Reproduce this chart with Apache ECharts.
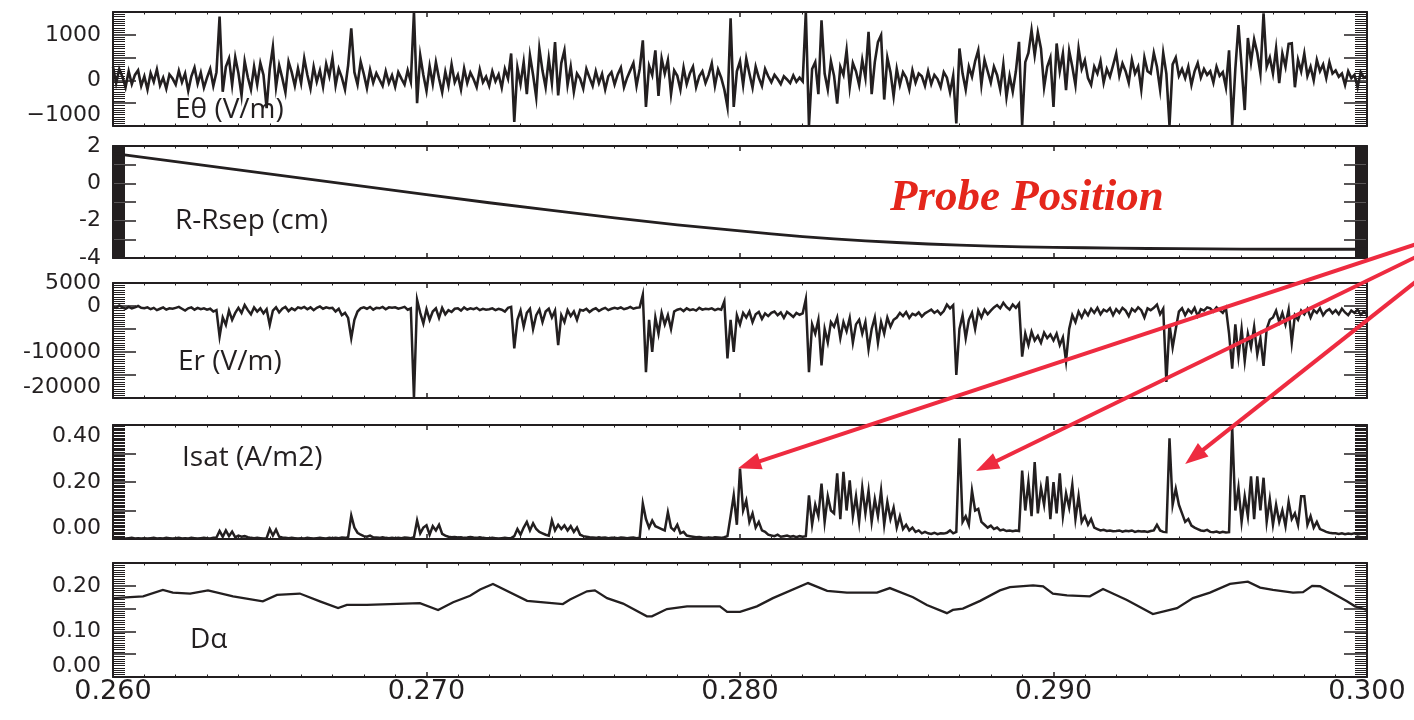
<!DOCTYPE html>
<html>
<head>
<meta charset="utf-8">
<script src="https://cdn.jsdelivr.net/npm/echarts@6/dist/echarts.min.js"></script>
<style>
  html, body { margin: 0; padding: 0; background: #ffffff; }
  #chart { width: 1414px; height: 720px; }
</style>
</head>
<body>
<div id="chart"></div>
<script>
// Probe time traces, sampled every 0.1 ms from t = 0.260 s
const T0 = 0.260;
const DT = 0.0001;

// E-theta (V/m), one row per millisecond
const eTheta = [
  300, -60, 250, 80, -150, 200, -80, 120, 220, -120,
  90, -200, 160, -30, 240, -110, 60, -180, 130, 40,
  -90, 210, -40, 150, -230, 90, 280, -70, 170, -160,
  60, 250, -120, 180, 1400, -250, 300, 480, -100, 510,
  160, -330, 420, 70, -200, 300, -90, 380, 120, -610,
  250, 736, -150, 330, 50, -260, 410, 180, -120, 260,
  -60, 485, 120, -180, 300, -30, 220, -140, 360, 90,
  490, -110, 250, 60, -200, 330, 1140, 180, -90, 410,
  140, -170, 230, -50, 160, 20, -120, 200, -60, 110,
  -140, 180, 40, -90, 220, -30, 1500, -500, 550, 120,
  -230, 310, -80, 400, 40, -260, 190, -120, 350, -40,
  120, -200, 260, -60, 170, 30, -150, 240, -40, 80,
  -120, 200, -20, 130, -160, 250, 40, 590, -910, 280,
  -80, 400, -300, 550, 120, -370, 700, 210, -150, 480,
  -60, 840, -330, 380, 660, -100, 300, -250, 150, 40,
  -180, 250, 60, -120, 200, -60, 140, -200, 90, 180,
  -90, 130, 280, -150, 60, 220, 380, -120, 250, 880,
  -580, 320, 120, 660, -340, 480, 150, 440, -300, 220,
  100, -200, 280, -80, 150, 300, -150, 90, 200, -60,
  120, 370, -120, 240, 60, -200, -580, 1360, -580, 200,
  420, -100, 480, 150, -160, 300, 60, -120, 250, 90,
  -40, 120, 30, -80, 90, 20, -60, 110, -30, 60,
  -20, 1500, -990, 250, 400, -300, 1320, 150, -200, 420,
  100, -510, 300, 120, 660, -150, 380, 200, -100, 450,
  60, 1065, -300, 400, 840, 990, -420, 500, 180, -350,
  250, -100, 180, 60, -200, 220, -50, 150, 90, -120,
  200, -80, 120, 30, -150, 180, 60, -260, 100, -945,
  700, 150, -200, 300, 80, 420, 660, -100, 450, 200,
  -50, 300, 120, -200, 350, -370, 100, -250, 200, 845,
  -985, 400, 600, 1100, 550, 1050, 700, -150, 300, 500,
  -580, 810, 200, 590, -215, 650, 300, -100, 700, 250,
  440, 50, -100, 300, 150, 420, -50, 250, 80, 330,
  590, 100, 370, 200, -50, 450, 150, 300, -200, 500,
  200, 150, 600, 300, -200, 600, 150, -985, 350, 500,
  100, 250, 50, 300, -100, 200, 380, 60, 250, 120,
  200, -50, 300, 100, 180, -150, 660, -985, 250, 1215,
  300, -650, 930, 400, 900, 600, 150, 1470, 300, 500,
  150, 700, -60, 590, 300, 800, 815, -150, 450, 200,
  590, 100, 300, 0, 450, 200, 350, 50, 400, 150,
  220, 80, 150, -100, 200, 50, 120, -150, 180, 60,
  100
];

// Radial electric field Er (V/m)
const eRadial = [
  -200, -400, 100, -300, -600, -200, -500, -300, 0, -400,
  -500, -300, -700, -400, -900, -600, -300, -800, -500, -600,
  -400, -200, -600, -1000, -500, -300, -800, -400, -700, -500,
  -800, -600, -1200, -900, -6660, -2500, -4100, -1000, -3000, -1500,
  -400, -1500, 200, -900, -1800, -300, -1200, -500, -1600, -700,
  -4100, -1000, -300, -1400, -600, -200, -1100, -500, -900, -300,
  -500, -200, -700, -300, -900, -400, -100, -600, -300, -500,
  -400, -1200, -600, -2000, -1500, -2600, -7000, -3000, -1200, -500,
  -300, -600, -200, -800, -400, -500, -200, -700, -300, -400,
  -300, -600, -400, -200, -800, -500, -20000, 1350, -1500, -3800,
  -700, -3000, -1200, -500, -2600, -400, -1800, -900, -1300, -600,
  -500, -1000, -300, -800, -500, -700, -400, -900, -600, -800,
  -700, -500, -900, -600, -800, -1200, -400, -200, -9200, -3000,
  -1000, -4500, -1500, -600, -5000, -2000, -800, -3500, -1200, -600,
  -2500, -1000, -8500, -2000, -3500, -900, -2200, -1200, -3000, -800,
  -1000, -600, -1300, -800, -500, -1100, -700, -400, -900, -600,
  -400, -600, -300, -700, -500, -200, -600, -400, -300, 2450,
  -14400, -3000, -10000, -2500, -6000, -1500, -4000, -2000, -5000, -1200,
  -800, -600, -1100, -500, -900, -700, -1000, -400, -800, -600,
  -700, -500, -900, -600, -800, 1000, -11400, -3000, -10000, -2000,
  -4000, -1500, -2500, -1200, -3500, -1800, -1300, -2800, -1600, -2200,
  -1500, -1200, -2000, -1400, -2600, -1300, -1800, -2400, -1500, -1900,
  -1600, 1500, -14400, -4000, -6000, -3000, -12900, -5000, -7900, -3500,
  -4500, -2500, -7000, -3500, -5500, -2600, -8000, -4000, -3000, -6000,
  -3500, -9400, -5000, -2500, -8000, -3500, -6000, -2500, -4500, -3000,
  -2500, -1500, -2200, -1300, -2600, -1700, -2000, -1400, -2300, -1600,
  -1200, -800, -1500, -1000, -1800, -1100, 300, -500, 200, -15000,
  -5000, -2000, -7000, -3000, -1500, -5000, -1000, -2500, -800, -1800,
  -1000, -300, 200, -500, 700, -200, -800, 300, -400, 500,
  -11000, -6000, -8500, -5600, -7500, -6500, -8000, -5800, -7000, -6200,
  -7500, -6000, -8500, -6800, -12000, -5000, -2000, -3500, -1200, -2500,
  -1000, -2000, -600, -1500, -400, -1800, -800, -1200, -500, -2000,
  -700, -1500, -400, -1000, -2200, -600, -1200, -300, -900, -2500,
  -500, -900, -400, 300, -1800, -600, -16500, -4000, -9000, -5000,
  -1200, -500, -2000, -800, -1500, -400, -2200, -700, -1000, -300,
  -500, -1200, -300, -900, -1500, -400, -6000, -13600, -4000, -11000,
  -5000, -12000, -6000, -9000, -4500, -10500, -7000, -13000, -5000, -3000,
  -2500, -1000, -3500, -1500, -4000, -800, -8000, -2000, -3000, -1000,
  -1800, -600, -2500, -900, -1500, -500, -2000, -1100, -700, -1600,
  -900, -1800, -600, -1400, -2000, -1000, -1500, -800, -1900, -1200,
  -1800
];

// Ion saturation current density (A/m2)
const iSat = [
  0.003, 0.002, 0.004, 0.003, 0.002, 0.003, 0.004, 0.002, 0.003, 0.002,
  0.003, 0.002, 0.003, 0.004, 0.002, 0.003, 0.002, 0.004, 0.003, 0.002,
  0.003, 0.004, 0.002, 0.003, 0.002, 0.004, 0.003, 0.002, 0.003, 0.004,
  0.003, 0.002, 0.004, 0.005, 0.028, 0.008, 0.030, 0.010, 0.026, 0.006,
  0.012, 0.008, 0.010, 0.006, 0.004, 0.003, 0.004, 0.003, 0.002, 0.003,
  0.035, 0.012, 0.033, 0.008, 0.005, 0.004, 0.003, 0.004, 0.003, 0.002,
  0.003, 0.002, 0.004, 0.003, 0.002, 0.003, 0.004, 0.003, 0.002, 0.004,
  0.003, 0.004, 0.003, 0.005, 0.004, 0.006, 0.082, 0.040, 0.022, 0.015,
  0.010, 0.008, 0.012, 0.006, 0.005, 0.004, 0.006, 0.004, 0.003, 0.004,
  0.003, 0.004, 0.003, 0.005, 0.004, 0.003, 0.006, 0.065, 0.020, 0.040,
  0.048, 0.015, 0.045, 0.030, 0.050, 0.018, 0.012, 0.008, 0.006, 0.007,
  0.005, 0.006, 0.004, 0.005, 0.007, 0.005, 0.004, 0.006, 0.004, 0.003,
  0.003, 0.004, 0.003, 0.002, 0.003, 0.004, 0.003, 0.003, 0.010, 0.035,
  0.015, 0.040, 0.060, 0.030, 0.055, 0.035, 0.025, 0.020, 0.015, 0.012,
  0.065, 0.030, 0.050, 0.035, 0.048, 0.030, 0.045, 0.025, 0.040, 0.015,
  0.010, 0.008, 0.006, 0.005, 0.004, 0.006, 0.004, 0.005, 0.003, 0.004,
  0.004, 0.003, 0.005, 0.004, 0.003, 0.004, 0.005, 0.003, 0.004, 0.124,
  0.070, 0.040, 0.065, 0.045, 0.040, 0.035, 0.030, 0.094, 0.040, 0.030,
  0.050, 0.020, 0.025, 0.012, 0.010, 0.008, 0.006, 0.007, 0.005, 0.004,
  0.005, 0.004, 0.006, 0.005, 0.004, 0.006, 0.010, 0.080, 0.153, 0.050,
  0.247, 0.100, 0.135, 0.060, 0.090, 0.040, 0.060, 0.030, 0.025, 0.015,
  0.012, 0.010, 0.015, 0.008, 0.010, 0.012, 0.008, 0.010, 0.006, 0.010,
  0.008, 0.010, 0.153, 0.050, 0.120, 0.080, 0.194, 0.060, 0.150, 0.100,
  0.090, 0.230, 0.070, 0.236, 0.100, 0.206, 0.080, 0.150, 0.060, 0.180,
  0.090, 0.170, 0.060, 0.140, 0.080, 0.170, 0.050, 0.130, 0.070, 0.110,
  0.040, 0.080, 0.035, 0.050, 0.030, 0.040, 0.025, 0.030, 0.020, 0.025,
  0.020, 0.018, 0.022, 0.017, 0.020, 0.019, 0.022, 0.030, 0.020, 0.025,
  0.353, 0.060, 0.080, 0.050, 0.170, 0.100, 0.106, 0.060, 0.050, 0.040,
  0.047, 0.035, 0.040, 0.030, 0.033, 0.028, 0.030, 0.027, 0.030, 0.028,
  0.240, 0.100, 0.200, 0.080, 0.270, 0.090, 0.180, 0.120, 0.220, 0.070,
  0.200, 0.090, 0.230, 0.080, 0.160, 0.110, 0.190, 0.070, 0.150, 0.060,
  0.080, 0.050, 0.070, 0.040, 0.035, 0.030, 0.032, 0.028, 0.030, 0.027,
  0.028, 0.030, 0.026, 0.029, 0.027, 0.030, 0.025, 0.028, 0.026, 0.027,
  0.025, 0.028, 0.030, 0.050, 0.030, 0.025, 0.024, 0.353, 0.120, 0.176,
  0.120, 0.090, 0.060, 0.070, 0.047, 0.040, 0.035, 0.030, 0.028, 0.032,
  0.025, 0.024, 0.026, 0.022, 0.025, 0.023, 0.024, 0.395, 0.100, 0.180,
  0.060, 0.150, 0.080, 0.220, 0.070, 0.220, 0.100, 0.215, 0.060, 0.140,
  0.050, 0.120, 0.060, 0.100, 0.045, 0.130, 0.070, 0.090, 0.050, 0.150,
  0.150, 0.050, 0.080, 0.040, 0.060, 0.035, 0.030, 0.025, 0.022, 0.020,
  0.020, 0.018, 0.020, 0.017, 0.019, 0.018, 0.020, 0.016, 0.018, 0.020,
  0.020
];

// Probe position relative to the separatrix (cm)
const positionTime = [0.260, 0.262, 0.264, 0.266, 0.268, 0.270, 0.272, 0.274, 0.276, 0.277,
                      0.278, 0.279, 0.280, 0.281, 0.282, 0.283, 0.284, 0.285, 0.286, 0.287,
                      0.288, 0.289, 0.290, 0.291, 0.292, 0.293, 0.294, 0.296, 0.298, 0.300];
const positionCm = [1.60, 1.16, 0.72, 0.28, -0.16, -0.60, -1.04, -1.45, -1.85, -2.04,
                    -2.22, -2.39, -2.55, -2.71, -2.85, -2.97, -3.08, -3.17, -3.25, -3.31,
                    -3.36, -3.40, -3.43, -3.45, -3.47, -3.49, -3.50, -3.52, -3.53, -3.53];

// D-alpha emission
const dAlphaTime = [
  0.26000, 0.26096, 0.26159, 0.26191, 0.26246, 0.26303, 0.26383, 0.26478, 0.26523, 0.26596,
  0.26660, 0.26718, 0.26746, 0.26810, 0.26979, 0.27037, 0.27085, 0.27139, 0.27171, 0.27212,
  0.27321, 0.27435, 0.27458, 0.27512, 0.27537, 0.27576, 0.27627, 0.27703, 0.27719, 0.27767,
  0.27831, 0.27936, 0.27959, 0.28000, 0.28054, 0.28105, 0.28217, 0.28278, 0.28341, 0.28437,
  0.28478, 0.28552, 0.28596, 0.28660, 0.28679, 0.28711, 0.28766, 0.28829, 0.28861, 0.28935,
  0.28967, 0.28998, 0.29043, 0.29116, 0.29158, 0.29234, 0.29317, 0.29394, 0.29445, 0.29499,
  0.29563, 0.29620, 0.29659, 0.29700, 0.29764, 0.29796, 0.29825, 0.29850, 0.29892, 0.29936,
  0.29962, 0.30000
];
const dAlpha = [
  0.173, 0.177, 0.191, 0.185, 0.183, 0.190, 0.177, 0.166, 0.180, 0.183,
  0.166, 0.151, 0.158, 0.158, 0.162, 0.147, 0.164, 0.178, 0.192, 0.204,
  0.167, 0.160, 0.170, 0.188, 0.190, 0.173, 0.161, 0.133, 0.133, 0.149,
  0.155, 0.155, 0.143, 0.143, 0.155, 0.173, 0.206, 0.189, 0.185, 0.185,
  0.195, 0.175, 0.158, 0.140, 0.147, 0.150, 0.167, 0.190, 0.197, 0.201,
  0.199, 0.183, 0.179, 0.177, 0.193, 0.169, 0.138, 0.151, 0.173, 0.185,
  0.204, 0.209, 0.196, 0.191, 0.185, 0.186, 0.200, 0.199, 0.183, 0.166,
  0.155, 0.147
];

// Panel captions
const panelNames = ['Eθ (V/m)', 'R-Rsep (cm)', 'Er (V/m)', 'Isat (A/m2)', 'Dα'];
const annotationText = 'Probe Position';

// Arrows pointing at the Isat bursts: [time, Isat] for the tip and the tail
const arrowTips = [[0.27994, 0.248], [0.28753, 0.2386], [0.29420, 0.263]];
const arrowTails = [[0.30265, 1.074], [0.30265, 1.048], [0.30265, 0.998]];

const INK = '#231f20';
const RED_ARROW = '#ee2b40';
const RED_TEXT = '#e4261b';
const NUM_FONT = '"DejaVu Sans", sans-serif';
const NAME_FONT = '"Open Sans", sans-serif';

const pairs = (times, vals) => vals.map((v, i) => [times[i], v]);
const sampled = vals => vals.map((v, i) => [+(T0 + i * DT).toFixed(4), v]);

const gridBoxes = [
  { top: 12, height: 114 },
  { top: 146, height: 112 },
  { top: 283, height: 115 },
  { top: 425, height: 114 },
  { top: 563, height: 114 }
];

const yScales = [
  { min: -1000, max: 1500, interval: 500, minor: 10,
    fmt: v => (v % 1000 === 0 ? (v < 0 ? '\u2212' + (-v) : String(v)) : ''),
    vMin: 'bottom', vMax: 'middle', pad: 0 },
  { min: -4, max: 2, interval: 1, minor: 20,
    fmt: v => (Math.round(v) % 2 === 0 ? String(Math.round(v)) : ''),
    vMin: 'middle', vMax: 'middle', pad: 0 },
  { min: -20000, max: 5000, interval: 5000, minor: 10,
    fmt: v => (v === 5000 || v % 10000 === 0 ? String(v) : ''),
    vMin: 'bottom', vMax: 'middle', pad: 0 },
  { min: 0, max: 0.4, interval: 0.1, minor: 20,
    fmt: v => (Math.round(v * 100) % 20 === 0 ? v.toFixed(2) : ''),
    vMin: 'bottom', vMax: 'top', pad: 0 },
  { min: 0, max: 0.25, interval: 0.05, minor: 10,
    fmt: v => (Math.round(v * 100) % 10 === 0 ? v.toFixed(2) : ''),
    vMin: 'bottom', vMax: 'middle', pad: 10 }
];

const grids = gridBoxes.map(b => ({ left: 113, width: 1254, top: b.top, height: b.height }));

const xAxes = [];
const yAxes = [];
gridBoxes.forEach((b, g) => {
  ['bottom', 'top'].forEach(pos => {
    xAxes.push({
      gridIndex: g, type: 'value', position: pos,
      min: 0.26, max: 0.30, interval: 0.01,
      axisLine: { show: true, onZero: false, lineStyle: { color: INK, width: 2 } },
      axisTick: { show: true, inside: true, length: 5, lineStyle: { color: INK, width: 1.5 } },
      minorTick: { show: true, splitNumber: 10, length: 2.5, lineStyle: { color: INK, width: 1 } },
      splitLine: { show: false },
      minorSplitLine: { show: false },
      axisLabel: {
        show: g === 4 && pos === 'bottom',
        fontFamily: NUM_FONT, fontSize: 27, color: INK, margin: 1,
        formatter: v => v.toFixed(3)
      }
    });
  });
  const s = yScales[g];
  ['left', 'right'].forEach(pos => {
    yAxes.push({
      gridIndex: g, type: 'value', position: pos,
      min: s.min, max: s.max, interval: s.interval,
      axisLine: { show: true, onZero: false, lineStyle: { color: INK, width: 2 } },
      axisTick: { show: true, inside: true, length: 23, lineStyle: { color: INK, width: 1.5 } },
      minorTick: { show: true, splitNumber: s.minor, length: 12, lineStyle: { color: INK, width: 1 } },
      splitLine: { show: false },
      minorSplitLine: { show: false },
      axisLabel: {
        show: pos === 'left',
        fontFamily: NUM_FONT, fontSize: 22, color: INK, margin: 12,
        padding: [s.pad, 0, 0, 0],
        formatter: s.fmt,
        verticalAlignMinLabel: s.vMin,
        verticalAlignMaxLabel: s.vMax
      }
    });
  });
});

const lineSeries = (g, data, width) => ({
  type: 'line', xAxisIndex: 2 * g, yAxisIndex: 2 * g, data,
  showSymbol: false, symbol: 'none', silent: true, animation: false,
  lineStyle: { color: INK, width, join: 'miter' },
  emphasis: { disabled: true }
});

const series = [
  lineSeries(0, sampled(eTheta), 2.6),
  lineSeries(1, pairs(positionTime, positionCm), 2.8),
  lineSeries(2, sampled(eRadial), 2.5),
  lineSeries(3, sampled(iSat), 2.5),
  lineSeries(4, pairs(dAlphaTime, dAlpha), 2.3)
];

const namePos = [[175, 110], [175, 221], [178, 362], [182, 458], [190, 640]];
const textGraphics = panelNames.map((t, i) => ({
  type: 'text', x: namePos[i][0], y: namePos[i][1], z: 50,
  style: { text: t, fill: INK, font: '28px ' + NAME_FONT, verticalAlign: 'middle', align: 'left' }
}));
textGraphics.push({
  type: 'text', x: 890, y: 198, z: 50,
  style: { text: annotationText, fill: RED_TEXT, font: 'italic bold 45px "Liberation Serif", serif',
           verticalAlign: 'middle', align: 'left' }
});

const chart = echarts.init(document.getElementById('chart'), null, { renderer: 'canvas' });
chart.setOption({
  animation: false,
  backgroundColor: '#ffffff',
  grid: grids,
  xAxis: xAxes,
  yAxis: yAxes,
  series,
  graphic: textGraphics
});

// Arrows are placed through the Isat panel's own scales
function arrowGraphics() {
  const out = [];
  arrowTips.forEach((tip, k) => {
    const a = chart.convertToPixel({ seriesIndex: 3 }, arrowTails[k]);
    const b = chart.convertToPixel({ seriesIndex: 3 }, tip);
    const dx = b[0] - a[0], dy = b[1] - a[1];
    const len = Math.hypot(dx, dy);
    const ux = dx / len, uy = dy / len;
    const H = 23, W = 8.5;
    const bx = b[0] - ux * H, by = b[1] - uy * H;
    out.push({
      type: 'line', z: 100,
      shape: { x1: a[0], y1: a[1], x2: bx + ux * 3, y2: by + uy * 3 },
      style: { stroke: RED_ARROW, lineWidth: 4 }
    });
    out.push({
      type: 'polygon', z: 100,
      shape: { points: [[b[0], b[1]], [bx - uy * W, by + ux * W], [bx + uy * W, by - ux * W]] },
      style: { fill: RED_ARROW }
    });
  });
  return out;
}

chart.setOption({ graphic: textGraphics.concat(arrowGraphics()) });
</script>
</body>
</html>
